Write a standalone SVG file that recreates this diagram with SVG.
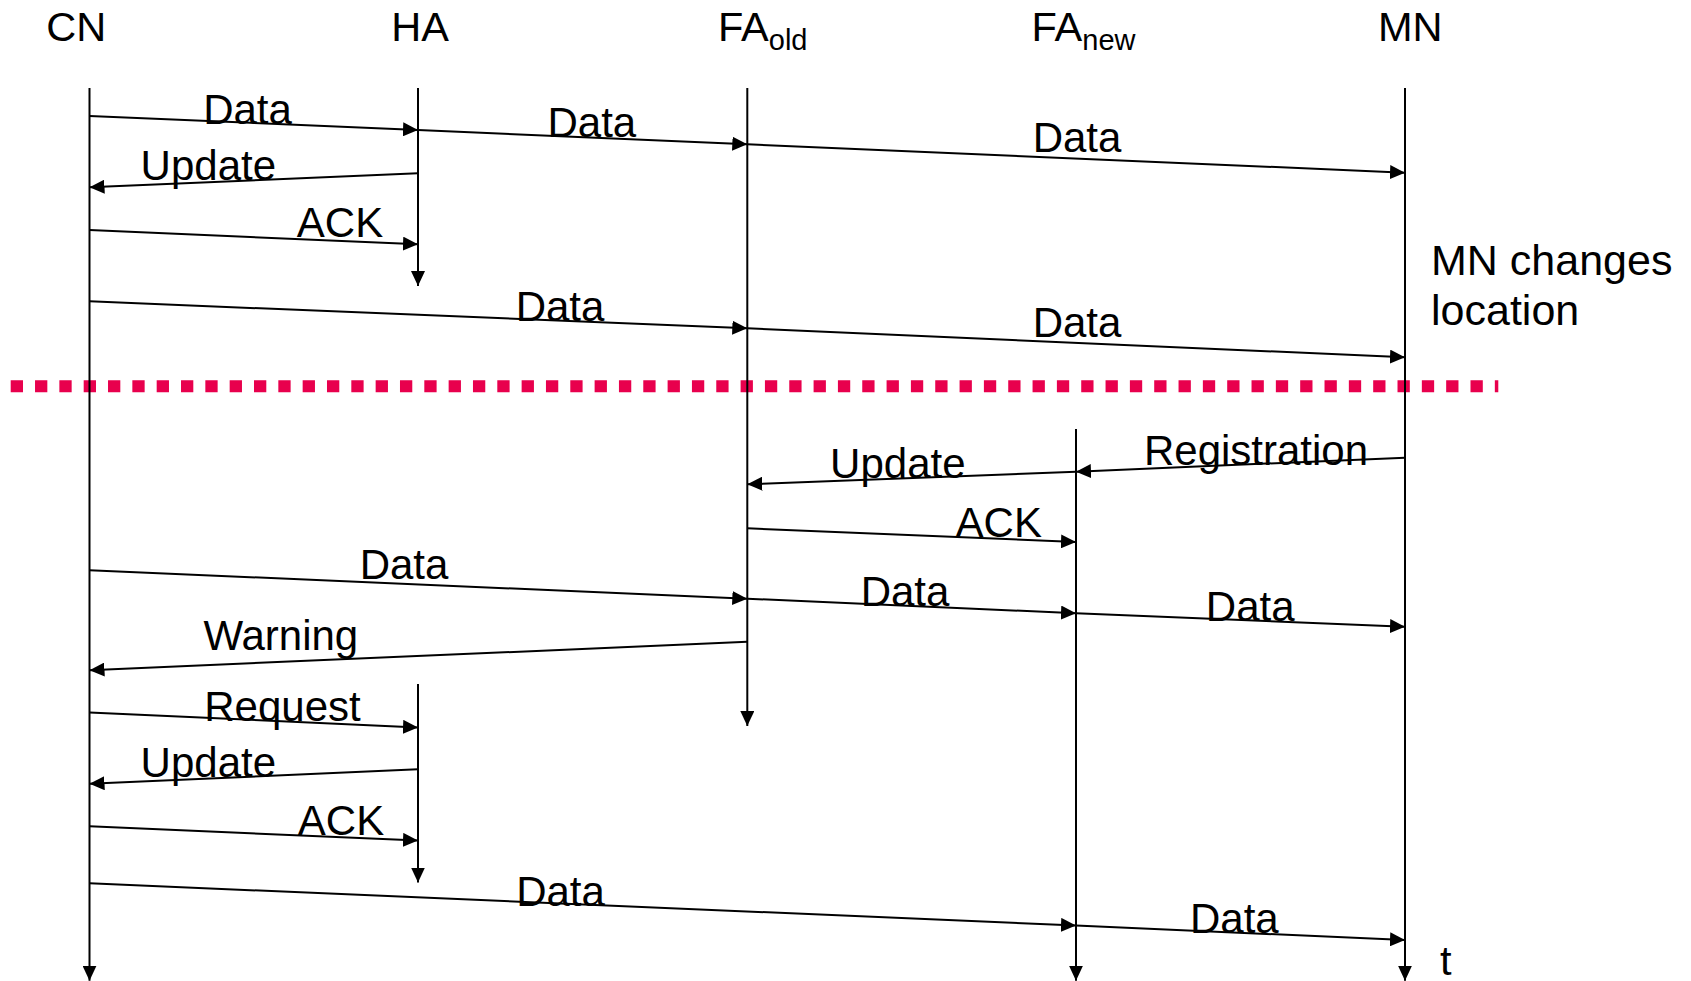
<svg xmlns="http://www.w3.org/2000/svg" width="1691" height="981" viewBox="0 0 1691 981">
<defs>
<marker id="ah" markerUnits="userSpaceOnUse" markerWidth="15" markerHeight="14" refX="15" refY="7" orient="auto" viewBox="0 0 15 14">
<path d="M0,0 L15,7 L0,14 z" fill="#000"/>
</marker>
<style>
text{font-family:"Liberation Sans",Arial,sans-serif;fill:#000}
.hdr{font-size:41.5px}
.sub{font-size:29px}
.lbl{font-size:42px;text-anchor:middle}
.note{font-size:43px}
.life{stroke:#000;stroke-width:2;fill:none}
.msg{stroke:#000;stroke-width:2;fill:none;marker-end:url(#ah)}
.sep{stroke:#E8004D;stroke-width:12;stroke-dasharray:12.3 12.03;fill:none}
</style>
</defs>
<rect width="1691" height="981" fill="#fff"/>
<line class="sep" x1="10.7" y1="386.3" x2="1498.3" y2="386.3"/>
<g id="CN">
<text class="hdr" x="76.2" y="40.7" text-anchor="middle">CN</text>
<line class="life" x1="89.5" y1="88" x2="89.5" y2="980.7" marker-end="url(#ah)"/>
</g>
<g id="HA">
<text class="hdr" x="420" y="40.7" text-anchor="middle">HA</text>
<line class="life" x1="418" y1="88" x2="418" y2="286" marker-end="url(#ah)"/>
<line class="life" x1="418" y1="684" x2="418" y2="882.5" marker-end="url(#ah)"/>
</g>
<g id="FAold">
<text class="hdr" x="718" y="40.7">FA<tspan class="sub" y="50">old</tspan></text>
<line class="life" x1="747.3" y1="88" x2="747.3" y2="726" marker-end="url(#ah)"/>
</g>
<g id="FAnew">
<text class="hdr" x="1031.5" y="40.7">FA<tspan class="sub" y="50">new</tspan></text>
<line class="life" x1="1076" y1="429" x2="1076" y2="980.7" marker-end="url(#ah)"/>
</g>
<g id="MN">
<text class="hdr" x="1410.2" y="40.7" text-anchor="middle">MN</text>
<line class="life" x1="1405" y1="88" x2="1405" y2="980.7" marker-end="url(#ah)"/>
</g>
<g id="notes">
<text class="note" x="1431" y="275">MN changes</text>
<text class="note" x="1431" y="325">location</text>
<text class="hdr" x="1440" y="975">t</text>
</g>
<g id="connectors">
<line class="msg" x1="89.5" y1="116" x2="418" y2="130"/>
<line class="msg" x1="418" y1="130" x2="747.3" y2="144.3"/>
<line class="msg" x1="747.3" y1="144.3" x2="1405" y2="172.7"/>
<line class="msg" x1="418" y1="173.3" x2="89.5" y2="187.3"/>
<line class="msg" x1="89.5" y1="230" x2="418" y2="244.3"/>
<line class="msg" x1="89.5" y1="301.3" x2="747.3" y2="328.3"/>
<line class="msg" x1="747.3" y1="328.3" x2="1405" y2="357.3"/>
<line class="msg" x1="1405" y1="457.7" x2="1076" y2="471.7"/>
<line class="msg" x1="1076" y1="471.7" x2="747.3" y2="484.3"/>
<line class="msg" x1="747.3" y1="528.3" x2="1076" y2="542"/>
<line class="msg" x1="89.5" y1="570.2" x2="747.3" y2="598.7"/>
<line class="msg" x1="747.3" y1="598.7" x2="1076" y2="613.2"/>
<line class="msg" x1="1076" y1="613.2" x2="1405" y2="626.7"/>
<line class="msg" x1="747.3" y1="641.8" x2="89.5" y2="670.2"/>
<line class="msg" x1="89.5" y1="712.5" x2="418" y2="727.5"/>
<line class="msg" x1="418" y1="769.2" x2="89.5" y2="783.8"/>
<line class="msg" x1="89.5" y1="826.3" x2="418" y2="840.5"/>
<line class="msg" x1="89.5" y1="883.3" x2="1076" y2="925.5"/>
<line class="msg" x1="1076" y1="925.5" x2="1405" y2="940"/>
</g>
<g id="labels">
<text class="lbl" x="247.5" y="124">Data</text>
<text class="lbl" x="591.8" y="136.7">Data</text>
<text class="lbl" x="1077" y="151.7">Data</text>
<text class="lbl" x="208.3" y="180">Update</text>
<text class="lbl" x="340" y="237.3">ACK</text>
<text class="lbl" x="560" y="320.7">Data</text>
<text class="lbl" x="1077" y="336.7">Data</text>
<text class="lbl" x="1256" y="464.8">Registration</text>
<text class="lbl" x="897.8" y="478.3">Update</text>
<text class="lbl" x="998.8" y="536.7">ACK</text>
<text class="lbl" x="404" y="579.3">Data</text>
<text class="lbl" x="905" y="606">Data</text>
<text class="lbl" x="1250.2" y="620.7">Data</text>
<text class="lbl" x="280.8" y="650">Warning</text>
<text class="lbl" x="282.5" y="721">Request</text>
<text class="lbl" x="208.3" y="777.3">Update</text>
<text class="lbl" x="341" y="835">ACK</text>
<text class="lbl" x="560.5" y="906">Data</text>
<text class="lbl" x="1234.3" y="933.3">Data</text>
</g>
</svg>
